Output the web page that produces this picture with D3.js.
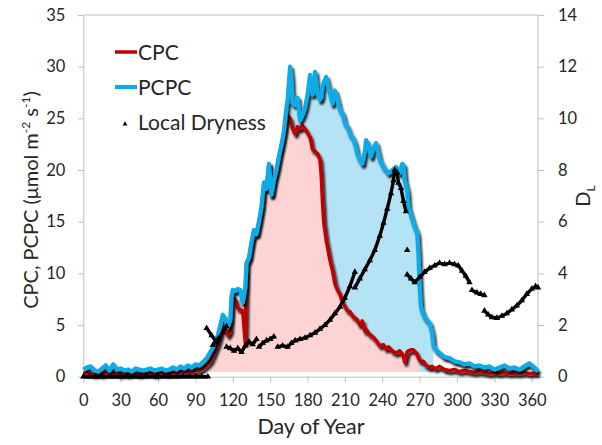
<!DOCTYPE html>
<html><head><meta charset="utf-8">
<script src="https://cdn.jsdelivr.net/npm/d3@7"></script>
<style>
body{margin:0;background:#fff}
svg{display:block}
text{font-family:Lato,"Open Sans",sans-serif;fill:#262626}
</style>
</head><body><svg id="c" width="602" height="445"></svg>
<script>
// ---------------- data ----------------
const days = [0,3,6,9,12,15,18,21,24,27,30,33,36,39,42,45,48,51,54,57,60,63,66,69,72,75,78,81,84,87,90,93,96,99,
  102,104,106,108,110,112,114,116,118,119,120,122,124,126,128,130,131,133,135,137,139,141,143,145,147,149,151,153,155,157,159,161,163,164,166,
  167,168,170,172,174,176,178,180,182,184,186,188,190,191,192,193,195,198,200,202,204,206,208,210,212,214,216,218,220,222,224,226,227,229,231,233,235,238,241,243,245,248,251,254,256,257,258,260,261,263,265,268,269,270,271,273,275,278,280,281,283,286,290,294,298,302,306,310,314,318,322,326,330,334,338,342,346,350,354,358,362,365];
const pcpc = [0.7,0.9,1.0,0.6,0.5,0.8,1.1,0.6,1.2,0.7,0.8,0.6,0.7,0.5,0.8,0.7,0.6,0.7,0.8,0.6,0.7,0.8,0.6,0.7,0.9,0.7,1.0,0.8,1.1,0.9,1.2,1.1,1.4,1.8,
  2.4,2.8,3.5,4.0,5.0,6.0,5.5,4.8,5.5,7.8,8.4,8.3,8.5,8.4,7.2,8.6,11.0,11.5,13.0,14.2,13.8,15.0,16.4,18.8,18.2,20.6,17.6,19.0,20.0,21.3,22.4,23.7,26.0,26.8,30.0,
  29.0,26.5,26.3,27.0,24.8,25.3,26.0,27.3,29.2,27.3,29.5,27.4,26.8,27.0,28.0,28.5,29.0,27.4,26.4,27.7,26.8,25.8,25.5,24.5,24.2,23.5,23.2,22.6,21.5,21.0,20.6,21.8,22.9,22.2,21.3,22.2,22.6,21.0,20.3,20.0,19.7,20.0,20.3,19.7,20.6,20.5,19.0,18.0,16.4,15.6,14.8,13.9,12.0,8.7,6.7,6.0,5.6,5.2,4.2,3.0,2.6,2.3,1.9,1.8,1.5,1.4,1.2,1.3,1.0,1.1,0.9,1.0,0.7,0.9,1.1,0.8,0.9,0.7,1.0,1.3,0.9,0.5];
const cpc = [0.3,0.4,0.3,0.2,0.3,0.2,0.4,0.3,0.4,0.3,0.2,0.3,0.2,0.3,0.3,0.2,0.3,0.3,0.4,0.2,0.3,0.4,0.3,0.3,0.4,0.3,0.5,0.4,0.5,0.4,0.6,0.6,0.8,1.1,
  1.5,2.0,2.6,3.2,4.0,4.8,4.6,4.0,4.4,7.3,7.6,7.5,6.6,6.5,6.4,3.3,11.0,11.5,13.0,14.2,13.8,15.0,16.4,18.8,18.2,20.6,17.6,19.0,20.0,21.3,22.4,23.7,25.0,25.3,25.0,
  24.5,24.0,23.5,24.2,24.0,24.3,24.0,23.6,23.2,22.0,21.8,21.6,21.0,19.5,17.0,15.0,13.2,11.3,10.3,9.0,8.4,8.0,7.2,6.8,6.4,6.3,5.9,5.7,5.5,5.0,5.4,4.4,4.6,4.2,4.0,3.8,3.5,3.0,3.1,2.7,2.9,2.5,2.3,2.5,2.2,2.0,1.4,2.4,2.5,2.6,2.6,2.2,1.8,1.6,1.5,1.5,1.1,0.9,1.0,0.9,0.8,1.0,0.7,0.6,0.7,0.5,0.6,0.5,0.4,0.5,0.4,0.3,0.4,0.3,0.4,0.3,0.35,0.3,0.4,0.3,0.35,0.3];
const fillStartDay = 102, pcpcFillEndDay = 281, cpcFillEndDay = 270, fillBase = 0.45;

// Local dryness D_L (null = break between marker runs)
const dryDays = [0,5,10,15,20,25,30,35,40,45,50,55,60,65,70,75,80,85,90,95,100,null,
  99,103,107,null, 104,108,112,115,null,
  115,118,121,124,127,130,133,136,139,null,
  141,144,147,150,153,null,
  156,160,164,167,170,174,178,182,186,190,194,198,202,206,210,214,218,null,
  218,222,226,230,234,238,241,244,247,249,250,252,253,255,257,259,null,
  260,null,
  260,263,266,270,274,278,282,286,290,294,298,301,304,307,310,null,
  312,316,319,322,null,
  322,325,328,332,336,340,344,348,352,356,360,363,365];
const dryValues = [0,0,0,0,0,0,0,0,0,0,0,0,0,0,0,0,0,0,0,0,0,null,
  1.88,1.6,1.32,null, 1.22,1.45,1.72,1.95,null,
  1.15,1.1,1.0,1.1,0.95,1.2,1.35,1.25,1.45,null,
  1.15,1.3,1.4,1.45,1.55,null,
  1.15,1.2,1.15,1.3,1.4,1.45,1.5,1.6,1.7,1.85,2.0,2.2,2.45,2.7,3.05,3.5,4.05,null,
  3.45,3.8,4.15,4.5,4.9,5.45,5.95,6.5,7.1,7.6,8.0,7.9,7.5,7.3,6.8,6.4,null,
  4.9,null,
  3.95,3.8,3.65,3.85,4.05,4.2,4.3,4.4,4.35,4.4,4.35,4.3,4.1,3.9,3.65,null,
  3.35,3.25,3.2,3.15,null,
  2.55,2.4,2.3,2.27,2.35,2.45,2.6,2.75,2.95,3.2,3.4,3.5,3.45];

const xTicks = [0,30,60,90,120,150,180,210,240,270,300,330,360];
const yLeftTicks = [0,5,10,15,20,25,30,35];
const yRightTicks = [0,2,4,6,8,10,12,14];
const legendItems = ["CPC","PCPC","Local Dryness"];

// ---------------- chart ----------------
const svg = d3.select("#c");
const L = 83.3, R = 538, T = 15, B = 376.7;
const x = d3.scaleLinear().domain([0,365]).range([L,R]);
const yL = d3.scaleLinear().domain([0,35]).range([B,T]);
const yR = d3.scaleLinear().domain([0,14]).range([B,T]);

const defs = svg.append("defs");
const f = defs.append("filter").attr("id","sh").attr("filterUnits","userSpaceOnUse")
  .attr("x",0).attr("y",0).attr("width",602).attr("height",445);
f.append("feDropShadow").attr("dx",1.8).attr("dy",3).attr("stdDeviation",1)
  .attr("flood-color","#000").attr("flood-opacity",0.9);

const rows = days.map((d,i)=>({d, p:pcpc[i], c:cpc[i]}));
const dry = dryDays.map((d,i)=>({d, v:dryValues[i]}));

// frame
const gray = "#bfbfbf";
svg.append("line").attr("x1",L).attr("x2",R).attr("y1",T).attr("y2",T).attr("stroke",gray);
svg.append("line").attr("x1",R).attr("x2",R).attr("y1",T).attr("y2",B).attr("stroke",gray);

// fills
const areaP = d3.area().x(r=>x(r.d)).y0(yL(fillBase)).y1(r=>yL(r.p));
const areaC = d3.area().x(r=>x(r.d)).y0(yL(fillBase)).y1(r=>yL(r.c));
svg.append("path").datum(rows.filter(r=>r.d>=fillStartDay && r.d<=pcpcFillEndDay))
  .attr("d",areaP).attr("fill","#b5e3f6");
svg.append("path").datum(rows.filter(r=>r.d>=fillStartDay && r.d<=cpcFillEndDay))
  .attr("d",areaC).attr("fill","#fdd3d3");

// axes
const axL = svg.append("g").attr("transform",`translate(${L},0)`)
  .call(d3.axisLeft(yL).tickValues(yLeftTicks).tickSize(5).tickPadding(13).tickSizeOuter(0));
const axR = svg.append("g").attr("transform",`translate(${R},0)`)
  .call(d3.axisRight(yR).tickValues(yRightTicks).tickSize(6).tickPadding(14).tickSizeOuter(0));
const axB = svg.append("g").attr("transform",`translate(0,${B})`)
  .call(d3.axisBottom(x).tickValues(xTicks).tickSize(6).tickPadding(12).tickSizeOuter(0));
[axL,axR,axB].forEach(g=>{
  g.selectAll("path,line").attr("stroke",gray);
  g.selectAll("text").attr("font-size",16.5).attr("fill","#333").style("font-family","Lato, sans-serif");
});
axR.select("path").remove();

// lines
const lineC = d3.line().x(r=>x(r.d)).y(r=>yL(r.c));
const lineP = d3.line().x(r=>x(r.d)).y(r=>yL(r.p));
svg.append("path").datum(rows).attr("d",lineC).attr("fill","none")
  .attr("stroke","#c00000").attr("stroke-width",3.5).attr("stroke-linejoin","round").attr("filter","url(#sh)");
svg.append("path").datum(rows).attr("d",lineP).attr("fill","none")
  .attr("stroke","#0aabe8").attr("stroke-width",4.2).attr("stroke-linejoin","round").attr("filter","url(#sh)");

// dryness
const lineD = d3.line().defined(p=>p.v!==null).x(p=>x(p.d)).y(p=>yR(p.v));
svg.append("path").datum(dry).attr("d",lineD).attr("fill","none")
  .attr("stroke","#000").attr("stroke-width",3.4).attr("stroke-linejoin","round");
const tri = d3.symbol(d3.symbolTriangle,18);
svg.append("g").selectAll("path").data(dry.filter(p=>p.v!==null)).join("path")
  .attr("transform",p=>`translate(${x(p.d)},${yR(p.v)})`).attr("d",tri()).attr("fill","#000");

// legend
const lg = svg.append("g");
const ly = [52,87,122];
lg.append("line").attr("x1",115).attr("x2",137).attr("y1",ly[0]).attr("y2",ly[0]).attr("stroke","#c00000").attr("stroke-width",3.5);
lg.append("line").attr("x1",115).attr("x2",137).attr("y1",ly[1]).attr("y2",ly[1]).attr("stroke","#0aabe8").attr("stroke-width",4.2);
lg.append("path").attr("transform",`translate(125,${ly[2]+2})`).attr("d",d3.symbol(d3.symbolTriangle,10)()).attr("fill","#000");
legendItems.forEach((t,i)=>{
  lg.append("text").attr("x",138).attr("y",ly[i]).attr("dy","0.36em").attr("font-size",21).text(t);
});

// axis titles
const lt = svg.append("text").attr("transform","translate(38,200) rotate(-90)")
  .attr("text-anchor","middle").attr("font-size",20);
lt.append("tspan").text("CPC, PCPC (μmol m");
lt.append("tspan").attr("dy",-8).attr("font-size",12).text("-2");
lt.append("tspan").attr("dy",8).text(" s");
lt.append("tspan").attr("dy",-8).attr("font-size",12).text("-1");
lt.append("tspan").attr("dy",8).text(")");

const rt = svg.append("text").attr("transform","translate(590,196) rotate(-90)")
  .attr("text-anchor","middle").attr("font-size",20);
rt.append("tspan").text("D");
rt.append("tspan").attr("dy",5).attr("font-size",12).text("L");

svg.append("text").attr("x",311).attr("y",434).attr("text-anchor","middle").attr("font-size",21.5).text("Day of Year");
</script>
</body></html>
